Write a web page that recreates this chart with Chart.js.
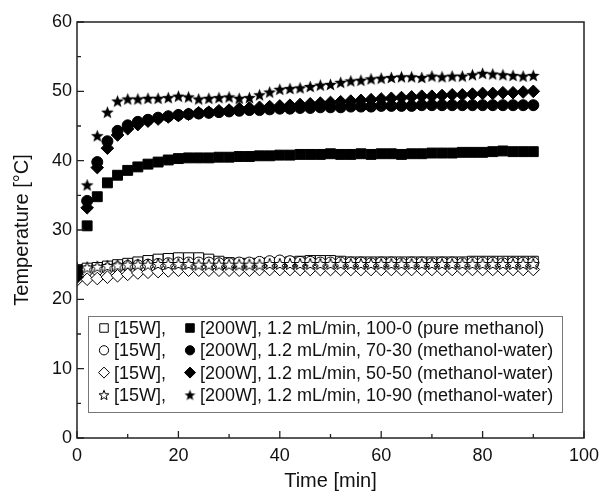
<!DOCTYPE html>
<html><head><meta charset="utf-8">
<script src="https://cdn.jsdelivr.net/npm/chart.js@4/dist/chart.umd.min.js"></script>
<style>html,body{margin:0;padding:0;background:#fff;}canvas{display:block;}</style>
</head><body>
<canvas id="c" width="614" height="497"></canvas>
<script>
// ---- data ----
const timeMin = [0,2,4,6,8,10,12,14,16,18,20,22,24,26,28,30,32,34,36,38,40,42,44,46,48,50,52,54,56,58,60,62,64,66,68,70,72,74,76,78,80,82,84,86,88,90];

// 15 W (open markers)
const w15_100_0 = [24.3,24.5,24.6,24.8,25.0,25.2,25.4,25.6,25.8,25.9,26.0,26.0,26.0,25.8,25.5,25.3,25.2,25.2,25.2,25.3,25.3,25.4,25.5,25.6,25.6,25.6,25.5,25.4,25.4,25.4,25.4,25.4,25.4,25.4,25.4,25.4,25.4,25.4,25.4,25.5,25.5,25.5,25.5,25.5,25.5,25.5];
const w15_70_30  = [24.0,24.1,24.2,24.4,24.6,24.8,24.9,25.0,25.1,25.2,25.3,25.3,25.3,25.3,25.2,25.2,25.3,25.3,25.4,25.5,25.6,25.5,25.4,25.4,25.3,25.3,25.3,25.3,25.3,25.2,25.3,25.3,25.2,25.3,25.3,25.2,25.3,25.3,25.2,25.3,25.3,25.3,25.2,25.3,25.3,25.3];
const w15_50_50  = [22.8,22.9,23.0,23.2,23.4,23.6,23.8,23.9,24.0,24.1,24.2,24.2,24.2,24.2,24.2,24.2,24.2,24.2,24.3,24.3,24.3,24.3,24.3,24.3,24.3,24.3,24.3,24.3,24.3,24.3,24.3,24.3,24.3,24.3,24.3,24.3,24.3,24.3,24.3,24.3,24.3,24.3,24.3,24.3,24.3,24.3];
const w15_10_90  = [24.5,24.6,24.7,24.8,24.9,25.0,25.0,25.0,25.1,25.1,25.1,25.1,25.0,25.0,25.0,25.0,25.0,25.0,25.0,25.1,25.1,25.1,25.1,25.1,25.1,25.1,25.1,25.1,25.1,25.1,25.1,25.1,25.1,25.1,25.1,25.1,25.1,25.1,25.1,25.1,25.1,25.1,25.1,25.1,25.1,25.1];

// 200 W (filled markers)
const w200_100_0 = [24.3,30.6,34.8,36.8,37.9,38.6,39.1,39.5,39.8,40.1,40.3,40.4,40.4,40.4,40.5,40.5,40.6,40.6,40.7,40.7,40.8,40.8,40.9,40.9,40.9,41.0,40.9,40.9,41.0,40.9,41.0,41.0,40.9,41.0,41.0,41.1,41.1,41.1,41.2,41.2,41.2,41.3,41.4,41.3,41.3,41.3];
const w200_70_30 = [23.8,34.2,39.8,42.8,44.3,45.1,45.6,45.9,46.2,46.4,46.6,46.7,46.8,46.9,47.0,47.1,47.2,47.3,47.3,47.4,47.5,47.5,47.6,47.6,47.7,47.7,47.7,47.8,47.8,47.8,47.9,47.9,47.9,47.9,48.0,48.0,48.0,48.0,48.0,48.0,48.0,48.0,48.0,48.0,48.0,48.0];
const w200_50_50 = [23.2,33.2,39.0,41.8,43.7,44.6,45.2,45.7,46.0,46.3,46.5,46.7,46.9,47.0,47.2,47.3,47.5,47.6,47.7,47.8,47.9,48.0,48.1,48.2,48.3,48.4,48.5,48.6,48.7,48.8,48.9,49.0,49.1,49.2,49.3,49.3,49.4,49.5,49.5,49.6,49.7,49.7,49.8,49.8,49.9,50.0];
const w200_10_90 = [24.0,36.5,43.6,47.0,48.6,48.9,48.9,49.0,49.0,49.1,49.3,49.2,48.9,49.0,49.1,49.2,49.0,49.1,49.5,49.9,50.3,50.4,50.5,50.7,50.9,51.0,51.3,51.5,51.6,51.8,51.9,52.0,52.1,52.1,52.0,52.2,52.1,52.2,52.2,52.4,52.6,52.5,52.4,52.3,52.2,52.3];

// tick labels / texts
const xTicks = [0,20,40,60,80,100];
const yTicks = [0,10,20,30,40,50,60];
const xTitle = 'Time [min]';
const yTitle = 'Temperature [\u00B0C]';
const legendOpenText = ['[15W],','[15W],','[15W],','[15W],'];
const legendFilledText = [
  '[200W], 1.2 mL/min, 100-0 (pure methanol)',
  '[200W], 1.2 mL/min, 70-30 (methanol-water)',
  '[200W], 1.2 mL/min, 50-50 (methanol-water)',
  '[200W], 1.2 mL/min, 10-90 (methanol-water)'
];

// ---- marker images for stars ----
function makeStar(size, filled){
  const c = document.createElement('canvas');
  c.width = size; c.height = size;
  const g = c.getContext('2d');
  const cx = size/2, cy = size/2 + size*0.04, R = size/2 - 0.8, r = R*0.42;
  g.beginPath();
  for (let i=0;i<10;i++){
    const a = -Math.PI/2 + i*Math.PI/5;
    const rr = i%2===0 ? R : r;
    const x = cx + rr*Math.cos(a), y = cy + rr*Math.sin(a);
    i===0 ? g.moveTo(x,y) : g.lineTo(x,y);
  }
  g.closePath();
  if (filled){ g.fillStyle='#000'; g.fill(); }
  else { g.fillStyle='#fff'; g.fill(); g.strokeStyle='#000'; g.lineWidth=1; g.stroke(); }
  return c;
}
const starFilled = makeStar(15, true);
const starOpen = makeStar(14, false);
const starFilledSm = makeStar(13, true);
const starOpenSm = makeStar(12, false);

const INK = '#111';
const FONT = "'Liberation Sans', Arial, Helvetica, sans-serif";

function ds(label, data, style, radius, filled){
  return {
    label, data: timeMin.map((t,i)=>({x:t, y:data[i]})),
    showLine:false, pointStyle:style, pointRadius:radius, pointHoverRadius:radius,
    pointBorderWidth: 1, pointBorderColor:'#000',
    pointBackgroundColor: filled ? '#000' : '#fff',
    clip: 0
  };
}

// first dataset is drawn on top
const datasets = [
  ds('200W 10-90', w200_10_90, starFilled, 7, true),
  ds('200W 50-50', w200_50_50, 'rectRot', 6.3, true),
  ds('200W 70-30', w200_70_30, 'circle', 5.5, true),
  ds('200W 100-0', w200_100_0, 'rect', 7, true),
  ds('15W 10-90', w15_10_90, starOpen, 7, false),
  ds('15W 50-50', w15_50_50, 'rectRot', 6.3, false),
  ds('15W 70-30', w15_70_30, 'circle', 5.5, false),
  ds('15W 100-0', w15_100_0, 'rect', 7, false),
];

// legend rows: [open style, filled style]
const legendMarkers = [
  [{pointStyle:'rect', radius:6, fill:'#fff'}, {pointStyle:'rect', radius:6, fill:'#000'}],
  [{pointStyle:'circle', radius:4.6, fill:'#fff'}, {pointStyle:'circle', radius:4.6, fill:'#000'}],
  [{pointStyle:'rectRot', radius:5.5, fill:'#fff'}, {pointStyle:'rectRot', radius:5.5, fill:'#000'}],
  [{pointStyle:starOpenSm, radius:6, fill:'#fff'}, {pointStyle:starFilledSm, radius:6, fill:'#000'}],
];

const framePlugin = {
  id:'frame',
  afterDatasetsDraw(chart){
    const {ctx, chartArea:a, scales:{x, y}} = chart;
    ctx.save();
    ctx.strokeStyle = '#222';
    ctx.lineWidth = 1.5;
    ctx.strokeRect(a.left, a.top, a.right-a.left, a.bottom-a.top);
    ctx.lineWidth = 1.3;
    ctx.beginPath();
    for (let v=0; v<=100; v+=10){
      const px = x.getPixelForValue(v);
      const len = (v%20===0) ? 7 : 4;
      ctx.moveTo(px, a.bottom); ctx.lineTo(px, a.bottom-len);
    }
    for (let v=0; v<=60; v+=5){
      const py = y.getPixelForValue(v);
      const len = (v%10===0) ? 7 : 4;
      ctx.moveTo(a.left, py); ctx.lineTo(a.left+len, py);
    }
    ctx.stroke();
    ctx.restore();
  }
};

function drawMarker(ctx, m, px, py){
  ctx.save();
  ctx.fillStyle = m.fill; ctx.strokeStyle = '#000'; ctx.lineWidth = 1;
  Chart.helpers.drawPoint(ctx, {pointStyle:m.pointStyle, radius:m.radius, borderWidth:1, rotation:0}, px, py);
  ctx.restore();
}

const legendPlugin = {
  id:'customLegend',
  afterDraw(chart){
    const {ctx, scales:{x, y}} = chart;
    const left = Math.round(x.getPixelForValue(2.2)), right = Math.round(x.getPixelForValue(95.6));
    const top = Math.round(y.getPixelForValue(17.6)), bottom = Math.round(y.getPixelForValue(3.7));
    ctx.save();
    ctx.fillStyle = '#fff';
    ctx.fillRect(left, top, right-left, bottom-top);
    ctx.strokeStyle = '#777';
    ctx.lineWidth = 1;
    ctx.strokeRect(left+0.5, top+0.5, right-left, bottom-top);
    const rowH = 22.3;
    ctx.font = '18px ' + FONT;
    ctx.textBaseline = 'middle';
    for (let i=0;i<4;i++){
      const cy = top + 12 + rowH*i;
      const [o, f] = legendMarkers[i];
      drawMarker(ctx, o, left+16, cy);
      ctx.fillStyle = INK;
      ctx.fillText(legendOpenText[i], left+26, cy+1);
      drawMarker(ctx, f, left+102, cy);
      ctx.fillStyle = INK;
      ctx.fillText(legendFilledText[i], left+112, cy+1);
    }
    ctx.restore();
  }
};

new Chart(document.getElementById('c'), {
  type:'scatter',
  data:{datasets},
  options:{
    responsive:false, animation:false,
    layout:{padding:{top:22, right:30, left:0, bottom:0}},
    plugins:{legend:{display:false}, tooltip:{enabled:false}},
    scales:{
      x:{
        type:'linear', min:0, max:100,
        afterBuildTicks(s){ s.ticks = xTicks.map(v=>({value:v})); },
        afterFit(s){ s.height = 59; },
        grid:{display:false, drawTicks:false},
        border:{display:false},
        ticks:{color:INK, font:{family:FONT, size:18}, padding:7, maxRotation:0},
        title:{display:true, text:xTitle, color:INK, font:{family:FONT, size:20, lineHeight:1.2}, padding:{top:0,bottom:4}}
      },
      y:{
        type:'linear', min:0, max:60,
        afterBuildTicks(s){ s.ticks = yTicks.map(v=>({value:v})); },
        afterFit(s){ s.width = 77; },
        grid:{display:false, drawTicks:false},
        border:{display:false},
        ticks:{color:INK, font:{family:FONT, size:18}, padding:5},
        title:{display:true, text:yTitle, color:INK, font:{family:FONT, size:20, lineHeight:1.2}, padding:{top:10,bottom:0}}
      }
    }
  },
  plugins:[framePlugin, legendPlugin]
});
</script>
</body></html>
